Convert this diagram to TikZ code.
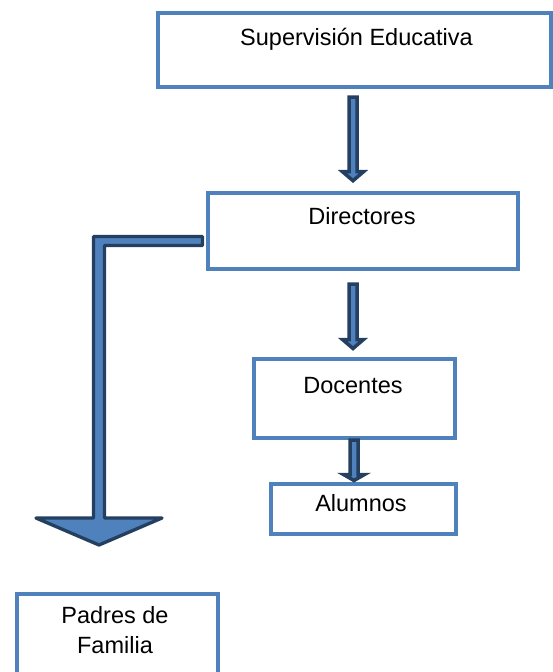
\documentclass[tikz,border=0pt]{standalone}
\usepackage{fontspec}
\setmainfont{Liberation Sans}
\usetikzlibrary{calc}
\definecolor{boxblue}{RGB}{79,129,189}
\definecolor{arrdark}{RGB}{36,63,96}
\newcommand\myblockarrow[3]{%
  \draw[smallarrow] ($(#1)+(-4,0)$) -- ($(#2)+(-4,-#3)$) -- ($(#2)+(-10.5,-#3)$) -- (#2)
    -- ($(#2)+(10.5,-#3)$) -- ($(#2)+(4,-#3)$) -- ($(#1)+(4,0)$) -- cycle;}
\begin{document}
\begin{tikzpicture}[x=1pt,y=-1pt,
  box/.style={draw=boxblue, line width=3.5pt, rectangle, inner sep=0pt, anchor=north west},
  txt/.style={font=\fontsize{23.5}{30}\selectfont, text=black, inner sep=0pt, anchor=base, align=center},
  smallarrow/.style={draw=arrdark, fill=boxblue, line width=3.5pt, line join=miter},
  bigarrow/.style={draw=arrdark, fill=boxblue, line width=3.3pt, line join=round}]
\useasboundingbox (0,0) rectangle (553,672);
\clip (0,0) rectangle (553,672);
% boxes
\node[box, minimum width=393pt, minimum height=74pt] (sup) at (156,11) {};
\node[box, minimum width=310pt, minimum height=76pt] (dir) at (206,191) {};
\node[box, minimum width=201pt, minimum height=79pt] (doc) at (252,357) {};
\node[box, minimum width=185pt, minimum height=50pt] (alu) at (269,482) {};
\node[box, minimum width=201pt, minimum height=110pt] (pad) at (15,592) {};
% texts
\node[txt] (supt) at (356.5,45) {Supervisión Educativa};
\node[txt] (dirt) at (362,224) {Directores};
\node[txt] (doct) at (353,393) {Docentes};
\node[txt] (alut) at (361,511.7) {Alumnos};
\node[txt] (padt) at (115,653.3) {Padres de\\Familia};
% small arrows
\coordinate (a1s) at (353,97);  \coordinate (a1e) at (353,180.7);
\coordinate (a2s) at (353,284); \coordinate (a2e) at (353,348.5);
\coordinate (a3s) at (354,440); \coordinate (a3e) at (354,480.5);
\myblockarrow{a1s}{a1e}{9}
\myblockarrow{a2s}{a2e}{9}
\myblockarrow{a3s}{a3e}{6}
% big bent arrow
\coordinate (bs) at (202.5,241);
\coordinate (be) at (99,545);
\draw[bigarrow] ($(bs)+(0,-4.5)$) -- ($(be |- bs)+(-5.5,-4.5)$) -- ($(be)+(-5.5,-27)$)
  -- ($(be)+(-63,-27)$) -- (be) -- ($(be)+(63,-27)$) -- ($(be)+(5.5,-27)$)
  -- ($(be |- bs)+(5.5,4.5)$) -- ($(bs)+(0,4.5)$) -- cycle;
\end{tikzpicture}
\end{document}
